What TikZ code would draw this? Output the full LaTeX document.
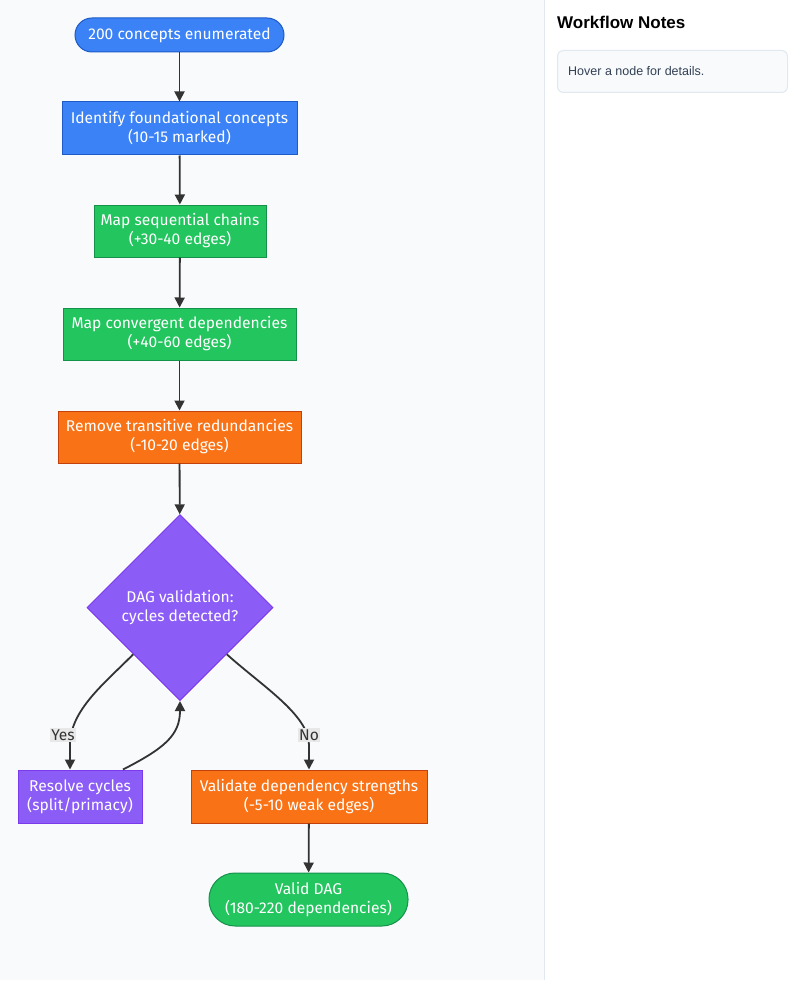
\documentclass[tikz,border=0pt]{standalone}
\usepackage{fontspec}
\setmainfont{Fira Sans}
\newfontfamily\panelfont{Liberation Sans}
\usetikzlibrary{shapes.geometric,arrows.meta}
\definecolor{bgleft}{HTML}{F8FAFC}
\definecolor{panelline}{HTML}{E2E8F0}
\definecolor{bluef}{HTML}{3B82F6}
\definecolor{blued}{HTML}{1E5BC6}
\definecolor{greenf}{HTML}{22C55E}
\definecolor{greend}{HTML}{15924A}
\definecolor{orangef}{HTML}{F97316}
\definecolor{oranged}{HTML}{C2410C}
\definecolor{purplef}{HTML}{8B5CF6}
\definecolor{purpled}{HTML}{7C3AED}
\definecolor{edgec}{HTML}{333333}
\definecolor{labelbg}{HTML}{E8E8E8}
\definecolor{notetext}{HTML}{334155}
\tikzset{
  base/.style={font=\fontsize{15.6}{19}\selectfont, text=white, align=center, line width=1pt, inner sep=0pt},
  bluebox/.style={base, rectangle, fill=bluef, draw=blued},
  greenbox/.style={base, rectangle, fill=greenf, draw=greend},
  orangebox/.style={base, rectangle, fill=orangef, draw=oranged},
  purplebox/.style={base, rectangle, fill=purplef, draw=purpled},
  flow/.style={draw=edgec, line width=1.8pt, -{Triangle[length=10pt,width=10pt]}},
  elabel/.style={fill=labelbg, font=\fontsize{15.6}{19}\selectfont, text=edgec, inner sep=1.5pt}
}
\begin{document}
\begin{tikzpicture}[x=1pt,y=-1pt]
\useasboundingbox (0,0) rectangle (800,995);
\fill[white] (0,0) rectangle (800,995);
\fill[bgleft] (0,0) rectangle (544,980);
\draw[panelline, line width=1pt] (544.5,0) -- (544.5,980);

% right panel
\node[anchor=west, font=\panelfont\bfseries\fontsize{17}{20}\selectfont, inner sep=0pt] (title) at (557,22) {Workflow Notes};
\node[draw=panelline, fill=bgleft, rounded corners=6pt, line width=1pt, minimum width=230pt, minimum height=42pt, anchor=north west, inner sep=0pt] (notebox) at (557,50) {};
\node[anchor=west, font=\panelfont\fontsize{12.5}{15}\selectfont, text=notetext, inner sep=0pt] (notetxt) at (568,71) {Hover a node for details.};

% nodes
\node[bluebox, rounded corners=17pt, minimum width=209pt, minimum height=34pt] (start) at (179.5,35) {200 concepts enumerated};
\node[bluebox, minimum width=235pt, minimum height=53pt] (ident) at (179.5,128.5) {Identify foundational concepts\\(10-15 marked)};
\node[greenbox, minimum width=172pt, minimum height=52pt] (seq) at (180,231) {Map sequential chains\\(+30-40 edges)};
\node[greenbox, minimum width=233pt, minimum height=52pt] (conv) at (179.5,334) {Map convergent dependencies\\(+40-60 edges)};
\node[orangebox, minimum width=243pt, minimum height=52pt] (trans) at (179.5,437) {Remove transitive redundancies\\(-10-20 edges)};
\node[purplebox, diamond, minimum width=186pt, minimum height=186pt] (dag) at (180,607.5) {DAG validation:\\cycles detected?};
\node[purplebox, minimum width=124pt, minimum height=53pt] (resolve) at (80,796.5) {Resolve cycles\\(split/primacy)};
\node[orangebox, minimum width=236pt, minimum height=53pt] (valid) at (309,796.5) {Validate dependency strengths\\(-5-10 weak edges)};
\node[greenbox, rounded corners=26pt, minimum width=199pt, minimum height=53pt] (final) at (308.5,899.5) {Valid DAG\\(180-220 dependencies)};

% edges
\draw[flow] (start) -- (ident);
\draw[flow] (ident) -- (seq);
\draw[flow] (seq) -- (conv);
\draw[flow] (conv) -- (trans);
\draw[flow] (trans) -- (dag);
\draw[flow] (dag.south west) .. controls (105,683) and (70,710) .. (70,745) -- (resolve.north -| 70,0);
\draw[flow] (resolve.north -| 123,0) .. controls (165,748) and (180,735) .. (dag.south);
\draw[flow] (dag.south east) .. controls (262,686) and (309,715) .. (309,745) -- (valid.north);
\draw[flow] (valid) -- (final);

\node[elabel] (yes) at (63,735) {Yes};
\node[elabel] (no) at (309,735) {No};
\end{tikzpicture}
\end{document}
